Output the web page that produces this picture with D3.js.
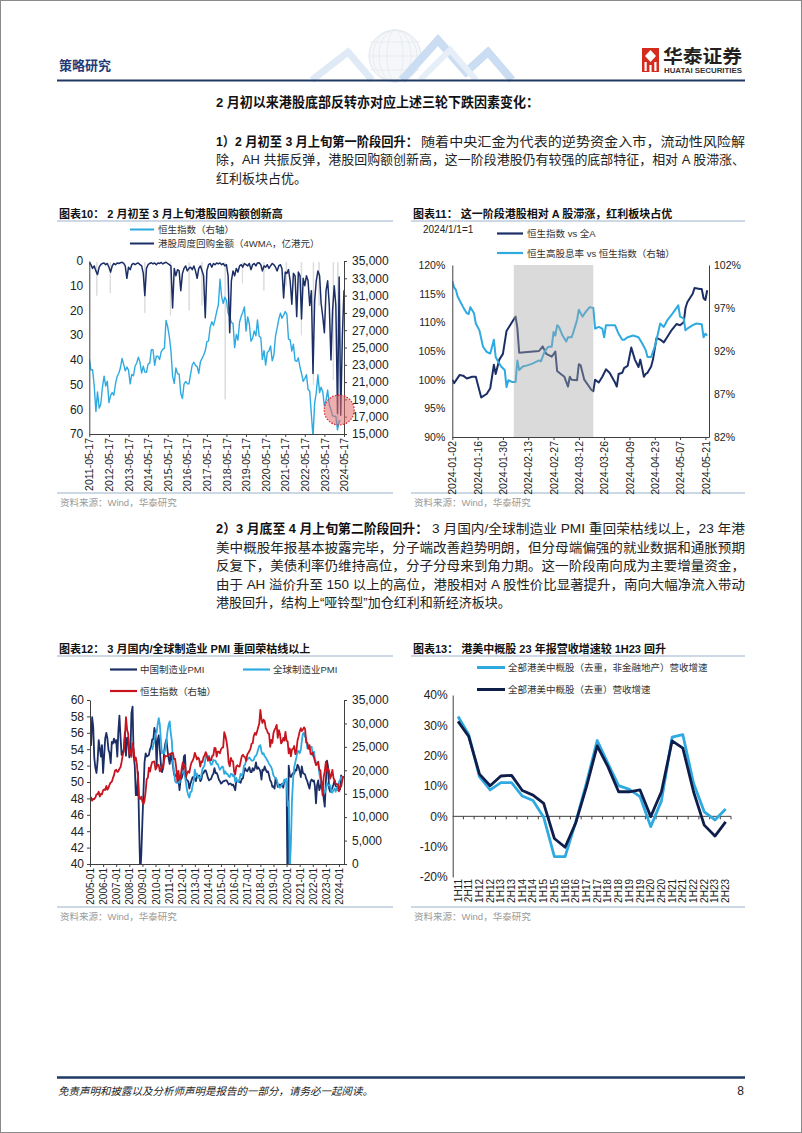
<!DOCTYPE html>
<html><head><meta charset="utf-8">
<script src="https://cdn.jsdelivr.net/npm/d3@7/dist/d3.min.js"></script>
<style>
html,body{margin:0;padding:0;background:#fff;}
svg{display:block;}
</style></head><body>
<svg id="page" width="802" height="1133"></svg>
<script>
// ---------------- DATA ----------------
// Chart 10
const c10Ticks = ["2011-05-17","2012-05-17","2013-05-17","2014-05-17","2015-05-17","2016-05-17","2017-05-17","2018-05-17","2019-05-17","2020-05-17","2021-05-17","2022-05-17","2023-05-17","2024-05-17"];
const c10LeftTicks = [0,10,20,30,40,50,60,70];
const c10RightTicks = [15000,17000,19000,21000,23000,25000,27000,29000,31000,33000,35000];
// weekly buyback 4WMA (monthly samples from 2011-05 to 2024-05)
const buyback4wma = [
 0.5,1.5,3.0,2.0,4.0,5.5,2.5,1.5,
 1.0,0.8,1.5,1.0,2.5,4.5,2.0,1.0,1.5,0.8,1.0,0.7,
 0.5,1.0,2.0,7.0,2.5,3.5,1.5,1.0,1.5,1.0,0.8,1.5,
 2.0,5.0,14.0,3.0,1.5,1.0,0.7,1.2,0.8,1.5,0.8,1.0,
 0.6,1.2,0.8,0.5,1.0,1.5,2.0,19.0,3.0,6.0,3.5,4.0,
 12.0,5.0,3.0,2.0,4.0,3.0,2.5,3.5,2.0,4.0,7.0,3.0,
 2.0,4.0,6.0,23.0,4.0,1.5,1.0,2.5,1.0,1.5,0.8,1.2,
 0.8,1.5,1.0,2.0,1.5,6.0,29.0,8.0,4.0,6.0,3.0,4.5,
 2.0,1.5,2.5,1.0,1.5,2.0,1.0,3.5,1.5,1.0,2.0,0.8,
 0.7,1.5,4.0,2.0,2.5,1.5,3.0,2.0,1.0,1.5,2.5,4.0,
 2.0,1.5,3.0,15.0,4.5,5.0,3.5,8.0,17.5,5.0,6.0,22.5,
 4.5,6.0,23.5,7.0,10.0,6.0,8.0,18.0,12.0,45.5,16.0,8.0,
 4.0,6.0,17.0,22.5,29.0,12.0,8.0,18.0,40.0,20.0,10.0,18.0,
 61.7,6.5,62.4,30.0,11.8
];
// raw weekly buyback peaks (faint grey)
const buybackWeeklyPeaks = [["2011-10-04",14],["2012-06-12",13],["2014-03-18",21],["2015-07-07",22],["2016-06-21",20],["2017-02-14",18],["2018-04-24",56],["2019-03-12",9],["2020-04-14",12],["2021-06-08",10],["2022-03-15",30],["2022-10-25",50],["2023-02-07",18],["2023-10-31",48],["2024-01-23",66]];
// Hang Seng Index, monthly, 2005-01 .. 2024-05 (used by charts 10 and 12)
const hsiMonthly = [
 13721,14195,13516,13908,13867,14201,14880,14903,15429,14386,14937,14876,
 15753,15918,15805,16661,15857,16267,16971,17392,17543,18324,18960,19965,
 20106,19651,19800,20318,20635,21773,23184,23984,27142,31352,28643,27812,
 23456,24332,22849,25755,24533,22102,22731,21262,18016,13969,13888,14387,
 13278,12812,13576,15521,18171,18379,20573,19724,20955,21752,21822,21873,
 20122,20609,21239,21108,19765,20129,21029,20536,22358,23096,23008,23035,
 23447,23338,23528,23720,23684,22398,22440,20535,17592,19864,17989,18434,
 20390,21680,20556,21094,18630,19441,19796,19482,20840,21642,22030,22657,
 23730,23020,22300,22737,22392,20803,21883,21731,22860,23206,23881,23306,
 22035,22837,22151,22134,23082,23191,24757,24742,22933,23998,23987,23605,
 24507,24823,24901,28133,27424,26250,24636,21670,20846,22640,21996,21914,
 19683,19112,20777,21067,20815,20794,21891,22977,23297,22935,22790,22001,
 23361,23741,24112,24615,25661,25765,27324,27970,27554,28246,29177,29919,
 32887,30845,30093,30808,30469,28955,28583,27889,27789,24980,26507,25846,
 27942,28633,29051,29699,26901,28543,27778,25725,26092,26907,26346,28190,
 26313,26130,23603,24644,22961,24427,24595,25177,23459,24107,26341,27231,
 28284,28980,28378,28725,29152,28828,25961,25879,24576,25377,23475,23398,
 23802,22713,21997,21089,21415,21860,20156,19954,17223,14687,18597,19781,
 21842,19786,20400,19895,18234,18916,20079,18382,17810,17112,17043,17047,
 15485,16511,16541,17763,18800
];

// Chart 11
const c11Ticks = ["2024-01-02","2024-01-16","2024-01-30","2024-02-13","2024-02-27","2024-03-12","2024-03-26","2024-04-09","2024-04-23","2024-05-07","2024-05-21"];
const c11LeftTicks = [90,95,100,105,110,115,120];
const c11RightTicks = [82,87,92,97,102];
const c11Band = ["2024-02-05","2024-03-20"];
const hsiVsAllA = [["2024-01-02",100.0],["2024-01-03",99.4],["2024-01-06",100.8],["2024-01-08",100.7],["2024-01-10",100.2],["2024-01-13",100.5],["2024-01-15",100.5],["2024-01-18",96.9],["2024-01-21",97.5],["2024-01-23",98.5],["2024-01-25",102.6],["2024-01-26",101.0],["2024-01-28",103.5],["2024-01-30",104.5],["2024-02-01",108.5],["2024-02-04",110.0],["2024-02-06",111.0],["2024-02-07",109.0],["2024-02-08",104.7],["2024-02-19",105.0],["2024-02-21",105.8],["2024-02-23",104.5],["2024-02-26",104.0],["2024-02-28",104.9],["2024-02-29",101.5],["2024-03-02",101.0],["2024-03-04",100.5],["2024-03-06",98.8],["2024-03-07",100.5],["2024-03-08",100.0],["2024-03-11",99.9],["2024-03-12",102.7],["2024-03-13",102.5],["2024-03-15",100.0],["2024-03-19",98.2],["2024-03-20",98.0],["2024-03-21",100.0],["2024-03-23",99.5],["2024-03-25",100.5],["2024-03-27",101.8],["2024-03-29",101.2],["2024-04-01",99.5],["2024-04-02",98.8],["2024-04-03",101.0],["2024-04-05",101.2],["2024-04-06",102.0],["2024-04-08",102.4],["2024-04-10",105.6],["2024-04-12",103.5],["2024-04-14",102.2],["2024-04-15",103.5],["2024-04-17",100.5],["2024-04-18",101.0],["2024-04-19",101.2],["2024-04-21",102.3],["2024-04-22",103.5],["2024-04-24",107.3],["2024-04-26",107.0],["2024-04-28",106.5],["2024-04-30",107.5],["2024-05-02",108.5],["2024-05-05",109.7],["2024-05-07",109.5],["2024-05-09",110.0],["2024-05-10",112.5],["2024-05-11",113.5],["2024-05-13",114.5],["2024-05-14",115.0],["2024-05-15",116.0],["2024-05-18",115.8],["2024-05-19",115.8],["2024-05-20",114.2],["2024-05-21",113.9],["2024-05-22",115.6]];
const hsHighDivVsHsi = [["2024-01-02",100.1],["2024-01-03",99.4],["2024-01-04",99.1],["2024-01-05",98.3],["2024-01-08",97.1],["2024-01-10",96.4],["2024-01-11",96.3],["2024-01-12",97.1],["2024-01-14",96.4],["2024-01-15",95.2],["2024-01-17",94.4],["2024-01-19",92.5],["2024-01-21",91.9],["2024-01-23",91.7],["2024-01-25",93.3],["2024-01-26",91.3],["2024-01-27",90.9],["2024-01-29",90.2],["2024-01-31",89.8],["2024-02-01",87.8],["2024-02-02",88.6],["2024-02-04",88.4],["2024-02-06",88.4],["2024-02-07",90.9],["2024-02-08",89.8],["2024-02-10",90.2],["2024-02-12",90.3],["2024-02-15",90.5],["2024-02-19",90.9],["2024-02-20",90.8],["2024-02-22",91.9],["2024-02-24",92.5],["2024-02-26",92.5],["2024-02-27",94.2],["2024-02-28",93.8],["2024-02-29",95.0],["2024-03-01",94.8],["2024-03-03",93.8],["2024-03-05",93.1],["2024-03-06",93.6],["2024-03-08",93.6],["2024-03-09",94.2],["2024-03-11",95.6],["2024-03-12",96.8],["2024-03-14",96.0],["2024-03-16",96.6],["2024-03-18",97.1],["2024-03-20",97.0],["2024-03-21",94.6],["2024-03-23",94.8],["2024-03-25",94.6],["2024-03-26",93.6],["2024-03-27",95.0],["2024-04-01",95.0],["2024-04-03",94.0],["2024-04-05",93.3],["2024-04-06",93.3],["2024-04-08",93.6],["2024-04-11",93.8],["2024-04-14",93.6],["2024-04-16",92.9],["2024-04-18",92.1],["2024-04-19",91.3],["2024-04-21",91.3],["2024-04-23",92.5],["2024-04-24",93.3],["2024-04-26",95.2],["2024-04-28",94.8],["2024-04-30",95.6],["2024-05-03",96.4],["2024-05-06",97.3],["2024-05-07",96.0],["2024-05-09",95.8],["2024-05-10",94.4],["2024-05-11",94.6],["2024-05-14",95.0],["2024-05-16",95.2],["2024-05-19",95.1],["2024-05-20",93.6],["2024-05-21",94.0],["2024-05-22",93.8]];

// Chart 12
const c12Ticks = ["2005-01","2006-01","2007-01","2008-01","2009-01","2010-01","2011-01","2012-01","2013-01","2014-01","2015-01","2016-01","2017-01","2018-01","2019-01","2020-01","2021-01","2022-01","2023-01","2024-01"];
const c12LeftTicks = [40,42,44,46,48,50,52,54,56,58,60];
const c12RightTicks = [0,5000,10000,15000,20000,25000,30000,35000];
// China manufacturing PMI 2005-01 .. 2024-04
const pmiChina = [
 54.7,54.5,57.9,56.7,52.9,51.7,51.1,52.6,55.1,54.1,53.1,54.5,
 51.1,53.3,55.3,56.0,55.3,53.9,53.5,52.3,54.9,54.7,55.3,54.8,
 55.1,53.1,56.1,58.1,55.5,53.3,53.5,54.0,56.1,53.2,55.4,55.3,
 53.0,53.4,58.4,59.2,53.3,52.0,48.4,48.4,51.2,44.6,38.8,41.2,
 45.3,49.0,52.4,53.5,53.1,53.2,53.3,54.0,54.3,55.2,55.2,56.6,
 55.8,52.0,55.1,55.7,53.9,52.1,51.2,51.7,53.8,54.7,55.2,53.9,
 52.9,52.2,53.4,52.9,52.0,50.9,50.7,50.9,51.2,50.4,49.0,50.3,
 50.5,51.0,53.1,53.3,50.4,50.2,50.1,49.2,49.8,50.2,50.6,50.6,
 50.4,50.1,50.9,50.6,50.8,50.1,50.3,51.0,51.1,51.4,51.4,51.0,
 50.5,50.2,50.3,50.4,50.8,51.0,51.7,51.1,51.1,50.8,50.3,50.1,
 49.8,49.9,50.1,50.1,50.2,50.2,50.0,49.7,49.8,49.8,49.6,49.7,
 49.4,49.0,50.2,50.1,50.1,50.0,49.9,50.4,50.4,51.2,51.7,51.4,
 51.3,51.6,51.8,51.2,51.2,51.7,51.4,51.7,52.4,51.6,51.8,51.6,
 51.3,50.3,51.5,51.4,51.9,51.5,51.2,51.3,50.8,50.2,50.0,49.4,
 49.5,49.2,50.5,50.1,49.4,49.4,49.7,49.5,49.8,49.3,50.2,50.2,
 50.0,35.7,52.0,50.8,50.6,50.9,51.1,51.0,51.5,51.4,52.1,51.9,
 51.3,50.6,51.9,51.1,51.0,50.9,50.4,50.1,49.6,49.2,50.1,50.3,
 50.1,50.2,49.5,47.4,49.6,50.2,49.0,49.4,50.1,49.2,48.0,47.0,
 50.1,52.6,51.9,49.2,48.8,49.0,49.3,49.7,50.2,49.5,49.4,49.0,
 49.2,49.1,50.8,50.4
];
// Global manufacturing PMI 2009-10 .. 2024-04
const pmiGlobal = [
 53.9,54.5,55.0,
 56.0,56.0,57.0,57.8,57.0,55.0,53.5,53.7,53.5,54.1,55.0,56.2,
 57.0,57.4,56.0,55.0,52.5,51.3,50.1,49.9,49.9,50.0,49.9,50.8,
 51.0,51.3,51.4,50.7,49.8,48.9,48.4,48.1,48.8,48.8,49.6,50.1,
 51.5,50.8,51.0,50.5,50.6,50.4,50.8,51.6,51.8,52.1,53.2,53.0,
 52.9,53.2,52.4,52.1,52.2,52.7,52.6,52.6,52.2,52.2,51.8,51.5,
 51.7,51.9,51.8,51.0,51.3,51.0,51.0,50.7,50.6,51.0,51.0,50.7,
 50.9,50.0,50.5,50.1,50.0,50.4,51.0,50.8,51.0,52.0,52.1,52.7,
 52.7,52.9,53.0,52.8,52.6,52.6,52.7,53.1,53.2,53.5,54.0,54.4,
 54.5,53.7,53.4,53.5,53.1,53.0,52.7,52.5,52.2,52.0,51.8,51.4,
 50.8,50.6,50.5,50.3,49.8,49.4,49.3,49.5,49.7,49.8,50.3,50.1,
 50.4,47.1,47.6,39.6,42.4,47.8,50.3,51.8,52.4,53.0,53.7,53.8,
 53.5,53.9,55.0,55.9,56.0,55.5,55.4,54.1,54.1,54.3,54.2,54.3,
 53.2,53.7,52.9,52.3,52.3,52.2,51.1,50.3,49.8,49.4,48.8,48.7,
 49.1,49.9,49.6,49.6,49.6,48.8,48.7,49.0,49.2,48.8,49.3,49.0,
 50.0,50.3,50.6,50.3
];

// Chart 13
const c13Cats = ["1H11","2H11","1H12","2H12","1H13","2H13","1H14","2H14","1H15","2H15","1H16","2H16","1H17","2H17","1H18","2H18","1H19","2H19","1H20","2H20","1H21","2H21","1H22","2H22","1H23","2H23"];
const c13Ticks = [-20,-10,0,10,20,30,40];
const revGrowthExFinRE = [32.9,26.9,13.1,8.7,11.1,11.1,6.7,5.2,-0.3,-13.3,-13.3,-1.8,11.0,25.0,17.5,10.1,8.9,6.5,-3.4,5.1,26.1,26.9,10.9,1.5,-1.2,2.4];
const revGrowthAll = [31.3,26.3,13.9,10.1,13.3,13.5,8.5,7.0,4.3,-7.3,-10.2,-2.1,9.8,23.2,16.4,8.1,8.1,8.7,-0.1,8.1,24.9,22.5,8.1,-2.9,-6.5,-1.8];

// ---------------- DRAWING ----------------
const FONT = "'Liberation Sans', Arial, 'Noto Sans CJK SC', sans-serif";
const NAVY = "#1b2f66", LBLUE = "#2eaae1", RED = "#c8141e", AX = "#404040";
const parse = d3.timeParse("%Y-%m-%d");
const parseM = d3.timeParse("%Y-%m");
const svg = d3.select("#page").attr("font-family", FONT);
svg.append("rect").attr("width", 802).attr("height", 1133).attr("fill", "#fff");
const defs = svg.append("defs");

function txt(g, x, y, s, o = {}) {
  const t = g.append("text").attr("x", x).attr("y", y).attr("dominant-baseline", "central")
    .attr("font-size", o.size || 12).attr("fill", o.fill || "#222").text(s);
  if (o.bold) t.attr("font-weight", "bold");
  if (o.anchor) t.attr("text-anchor", o.anchor);
  if (o.len) t.attr("textLength", o.len).attr("lengthAdjust", "spacingAndGlyphs");
  if (o.italic) t.attr("font-style", "italic");
  if (o.ls) t.attr("letter-spacing", o.ls);
  return t;
}
function hline(g, x1, x2, y, color, w) {
  g.append("line").attr("x1", x1).attr("x2", x2).attr("y1", y).attr("y2", y).attr("stroke", color).attr("stroke-width", w);
}
function styleAxis(sel, fs) {
  sel.attr("font-family", FONT).attr("font-size", fs);
  sel.select(".domain").attr("stroke", AX);
  sel.selectAll(".tick line").attr("stroke", AX);
  sel.selectAll(".tick text").attr("fill", "#222");
}
function rotateLabels(sel, off) {
  sel.selectAll(".tick text").attr("transform", "rotate(-90)").attr("text-anchor", "end")
    .attr("x", -off).attr("y", 0).attr("dy", "0.35em");
}
function clip(id, x0, y0, x1, y1) {
  defs.append("clipPath").attr("id", id).append("rect").attr("x", x0).attr("y", y0).attr("width", x1 - x0).attr("height", y1 - y0);
  return `url(#${id})`;
}
function frame(x0, x1, ty, title, srcLineY) {
  txt(svg, x0 + 2, ty, title, { size: 11, bold: true, fill: "#111" });
  hline(svg, x0, x1, ty + 7, "#9cb1cc", 1);
  hline(svg, x0, x1, srcLineY, "#9cb1cc", 1.2);
  txt(svg, x0 + 3, srcLineY + 9.5, "资料来源：Wind，华泰研究", { size: 9.5, fill: "#9a9a9a" });
}
function legendLine(g, x1, x2, y, color, w) {
  g.append("line").attr("x1", x1).attr("x2", x2).attr("y1", y).attr("y2", y).attr("stroke", color).attr("stroke-width", w);
}

// ----- Page border, header -----
svg.append("rect").attr("x", 0.5).attr("y", 0.5).attr("width", 801).attr("height", 1132).attr("fill", "none").attr("stroke", "#8a8a8a");
// decorative header graphic (globe and ribbons)
const deco = svg.append("g").attr("opacity", 0.55);
deco.append("circle").attr("cx", 395).attr("cy", 56).attr("r", 26).attr("fill", "#eef2f6").attr("stroke", "#c9d2dc").attr("stroke-width", 1);
[8, 16, 22].forEach(rx => deco.append("ellipse").attr("cx", 395).attr("cy", 56).attr("rx", rx).attr("ry", 26).attr("fill", "none").attr("stroke", "#cfd7e0").attr("stroke-width", 0.8));
[-14, 0, 14].forEach(dy => deco.append("line").attr("x1", 370).attr("x2", 420).attr("y1", 56 + dy).attr("y2", 56 + dy).attr("stroke", "#cfd7e0").attr("stroke-width", 0.8));
deco.append("polyline").attr("points", "312,80 348,52 372,80").attr("fill", "none").attr("stroke", "#c6daf0").attr("stroke-width", 7);
deco.append("polyline").attr("points", "402,80 438,40 466,72 488,52 512,80").attr("fill", "none").attr("stroke", "#9fc3e8").attr("stroke-width", 8);
deco.append("polyline").attr("points", "420,80 450,50 476,80").attr("fill", "none").attr("stroke", "#d2e3f4").attr("stroke-width", 6);

txt(svg, 59, 65.5, "策略研究", { size: 13, bold: true, fill: "#1f3b7a" });
// logo
const logo = svg.append("g");
logo.append("rect").attr("x", 642).attr("y", 48).attr("width", 17).attr("height", 24).attr("fill", "#d52b1e");
logo.append("path").attr("d", "M650.5,50 L656,56 L650.5,62 L645,56 Z").attr("fill", "#fff");
logo.append("rect").attr("x", 644.5).attr("y", 62).attr("width", 2.2).attr("height", 9).attr("fill", "#fff");
logo.append("rect").attr("x", 649.4).attr("y", 65).attr("width", 2.2).attr("height", 7).attr("fill", "#fff");
logo.append("rect").attr("x", 654.3).attr("y", 62).attr("width", 2.2).attr("height", 9).attr("fill", "#fff");
txt(logo, 663, 57, "华泰证券", { size: 18, bold: true, fill: "#231f20", len: 79 });
txt(logo, 664, 70.5, "HUATAI SECURITIES", { size: 7, bold: true, fill: "#333", len: 78 });
hline(svg, 57, 745, 80.5, "#1f3864", 2);

// ----- Body text -----
txt(svg, 216, 102.7, "2 月初以来港股底部反转亦对应上述三轮下跌因素变化：", { size: 13.5, bold: true, fill: "#111", len: 323 });
txt(svg, 216, 141, "1）2 月初至 3 月上旬第一阶段回升：", { size: 13, bold: true, fill: "#111", len: 202 });
txt(svg, 421, 141, "随着中央汇金为代表的逆势资金入市，流动性风险解", { size: 13, fill: "#222", len: 324 });
txt(svg, 216, 159.5, "除，AH 共振反弹，港股回购额创新高，这一阶段港股仍有较强的底部特征，相对 A 股滞涨、", { size: 13, fill: "#222", len: 529 });
txt(svg, 216, 178, "红利板块占优。", { size: 13, fill: "#222" });

txt(svg, 216, 528.5, "2）3 月底至 4 月上旬第二阶段回升：", { size: 13, bold: true, fill: "#111", len: 212 });
txt(svg, 432, 528.5, "3 月国内/全球制造业 PMI 重回荣枯线以上，23 年港", { size: 13, fill: "#222", len: 313 });
txt(svg, 216, 547, "美中概股年报基本披露完毕，分子端改善趋势明朗，但分母端偏强的就业数据和通胀预期", { size: 13, fill: "#222", len: 529 });
txt(svg, 216, 565.5, "反复下，美债利率仍维持高位，分子分母来到角力期。这一阶段南向成为主要增量资金，", { size: 13, fill: "#222", len: 529 });
txt(svg, 216, 584, "由于 AH 溢价升至 150 以上的高位，港股相对 A 股性价比显著提升，南向大幅净流入带动", { size: 13, fill: "#222", len: 529 });
txt(svg, 216, 602.5, "港股回升，结构上“哑铃型”加仓红利和新经济板块。", { size: 13, fill: "#222" });

// ----- Footer -----
hline(svg, 57, 745, 1077.5, "#1f3864", 2.5);
txt(svg, 58, 1090.5, "免责声明和披露以及分析师声明是报告的一部分，请务必一起阅读。", { size: 10.5, italic: true, fill: "#222" });
txt(svg, 744, 1090.5, "8", { size: 12, fill: "#222", anchor: "end" });

// ================= CHART 10 =================
(function () {
  frame(57, 393, 214, "图表10：  2 月初至 3 月上旬港股回购额创新高", 493);
  const g = svg.append("g");
  legendLine(g, 130, 154, 229.5, LBLUE, 2);
  txt(g, 158, 229.5, "恒生指数（右轴）", { size: 9.5, fill: "#333" });
  legendLine(g, 130, 154, 243.5, NAVY, 2);
  txt(g, 158, 243.5, "港股周度回购金额（4WMA，亿港元）", { size: 9.5, fill: "#333" });

  const X0 = 89.3, X1 = 344, Y0 = 261, Y1 = 434;
  const x = d3.scaleTime().domain([parse(c10Ticks[0]), parse(c10Ticks[c10Ticks.length - 1])]).range([X0, X1]);
  const yL = d3.scaleLinear().domain([0, 70]).range([Y0, Y1]);
  const yR = d3.scaleLinear().domain([15000, 35000]).range([Y1, Y0]);
  const cp = clip("c10", X0, Y0 - 1, X1, Y1);

  const spikeLine = d3.line().x(d => x(d[0])).y(d => yL(d[1]));
  buybackWeeklyPeaks.forEach(([ds, v]) => {
    const d = parse(ds);
    g.append("path").attr("clip-path", cp)
      .attr("d", spikeLine([[d3.timeDay.offset(d, -4), 0.5], [d, v], [d3.timeDay.offset(d, 4), 0.5]]))
      .attr("fill", "none").attr("stroke", "#dcdcdc").attr("stroke-width", 1);
  });
  const hsi10 = hsiMonthly.map((v, i) => [new Date(2005, i, 17), v]).filter((d, i) => i >= 76 && i <= 230);
  g.append("path").attr("clip-path", cp).attr("d", d3.line().x(d => x(d[0])).y(d => yR(d[1]))(hsi10))
    .attr("fill", "none").attr("stroke", LBLUE).attr("stroke-width", 1.4).attr("stroke-linejoin", "round");
  const bb = buyback4wma.map((v, i) => [new Date(2011, 4 + i, 17), v]);
  g.append("path").attr("clip-path", cp).attr("d", d3.line().x(d => x(d[0])).y(d => yL(d[1]))(bb))
    .attr("fill", "none").attr("stroke", NAVY).attr("stroke-width", 1.5).attr("stroke-linejoin", "round");

  const aL = g.append("g").attr("transform", `translate(${X0},0)`)
    .call(d3.axisLeft(yL).tickValues(c10LeftTicks).tickSize(0).tickPadding(6));
  styleAxis(aL, 12);
  const aR = g.append("g").attr("transform", `translate(${X1},0)`)
    .call(d3.axisRight(yR).tickValues(c10RightTicks).tickSize(3).tickSizeOuter(0).tickPadding(5).tickFormat(d3.format(",")));
  styleAxis(aR, 12);
  const aB = g.append("g").attr("transform", `translate(0,${Y1})`)
    .call(d3.axisBottom(x).tickValues(c10Ticks.map(parse)).tickSize(3).tickSizeOuter(0).tickFormat(d3.timeFormat("%Y-%m-%d")));
  styleAxis(aB, 10.5);
  rotateLabels(aB, 4);

  g.append("circle").attr("cx", x(parse("2024-02-17"))).attr("cy", yL(60.3)).attr("r", 15)
    .attr("fill", "rgba(226,110,110,0.55)").attr("stroke", "#e0262b").attr("stroke-width", 1.2).attr("stroke-dasharray", "1.5,1.5");
})();

// ================= CHART 11 =================
(function () {
  frame(411, 745, 214, "图表11：  这一阶段港股相对 A 股滞涨，红利板块占优", 493);
  const g = svg.append("g");
  txt(g, 423, 229.5, "2024/1/1=1", { size: 10, fill: "#222" });
  legendLine(g, 497, 523, 233.5, NAVY, 2.2);
  txt(g, 527, 233.5, "恒生指数 vs 全A", { size: 9.5, fill: "#333" });
  legendLine(g, 497, 523, 253, LBLUE, 2.2);
  txt(g, 527, 253, "恒生高股息率 vs 恒生指数（右轴）", { size: 9.5, fill: "#333" });

  const X0 = 452.3, X1 = 709, Y0 = 265, Y1 = 437;
  const x = d3.scaleTime().domain([parse("2024-01-02"), parse("2024-05-23")]).range([X0, X1]);
  const yL = d3.scaleLinear().domain([90, 120]).range([Y1, Y0]);
  const yR = d3.scaleLinear().domain([82, 102]).range([Y1, Y0]);
  const cp = clip("c11", X0, Y0, X1, Y1);

  g.append("path").attr("clip-path", cp).attr("d", d3.line().x(d => x(parse(d[0]))).y(d => yL(d[1]))(hsiVsAllA))
    .attr("fill", "none").attr("stroke", NAVY).attr("stroke-width", 2).attr("stroke-linejoin", "round");
  g.append("path").attr("clip-path", cp).attr("d", d3.line().x(d => x(parse(d[0]))).y(d => yR(d[1]))(hsHighDivVsHsi))
    .attr("fill", "none").attr("stroke", LBLUE).attr("stroke-width", 2).attr("stroke-linejoin", "round");
  g.append("rect").attr("x", x(parse(c11Band[0]))).attr("y", Y0).attr("width", x(parse(c11Band[1])) - x(parse(c11Band[0])))
    .attr("height", Y1 - Y0).attr("fill", "#a6a6a6").attr("opacity", 0.42);

  const aL = g.append("g").attr("transform", `translate(${X0},0)`)
    .call(d3.axisLeft(yL).tickValues(c11LeftTicks).tickSize(0).tickPadding(7).tickFormat(d => d + "%"));
  styleAxis(aL, 10.5);
  const aR = g.append("g").attr("transform", `translate(${X1},0)`)
    .call(d3.axisRight(yR).tickValues(c11RightTicks).tickSize(0).tickPadding(5).tickFormat(d => d + "%"));
  styleAxis(aR, 10.5);
  const aB = g.append("g").attr("transform", `translate(0,${Y1})`)
    .call(d3.axisBottom(x).tickValues(c11Ticks.map(parse)).tickSize(3).tickSizeOuter(0).tickFormat(d3.timeFormat("%Y-%m-%d")));
  styleAxis(aB, 10.5);
  rotateLabels(aB, 4);
})();

// ================= CHART 12 =================
(function () {
  frame(57, 393, 649, "图表12：  3 月国内/全球制造业 PMI 重回荣枯线以上", 907);
  const g = svg.append("g");
  legendLine(g, 110, 137, 669.5, NAVY, 2.2);
  txt(g, 140, 669.5, "中国制造业PMI", { size: 9.5, fill: "#333" });
  legendLine(g, 243, 270, 669.5, LBLUE, 2.2);
  txt(g, 273, 669.5, "全球制造业PMI", { size: 9.5, fill: "#333" });
  legendLine(g, 110, 137, 691, RED, 2.2);
  txt(g, 140, 691, "恒生指数（右轴）", { size: 9.5, fill: "#333" });

  const X0 = 90, X1 = 344, Y0 = 700, Y1 = 864;
  const x = d3.scaleTime().domain([parse("2005-01-01"), parse("2024-05-20")]).range([X0, X1]);
  const yL = d3.scaleLinear().domain([40, 60]).range([Y1, Y0]);
  const yR = d3.scaleLinear().domain([0, 35000]).range([Y1, Y0]);
  const cp = clip("c12", X0, Y0 - 2, X1, Y1);

  const cn = pmiChina.map((v, i) => [new Date(2005, i, 1), v]);
  const gl = pmiGlobal.map((v, i) => [new Date(2009, 9 + i, 1), v]);
  const hs = hsiMonthly.map((v, i) => [new Date(2005, i, 1), v]);
  g.append("path").attr("clip-path", cp).attr("d", d3.line().x(d => x(d[0])).y(d => yL(d[1]))(cn))
    .attr("fill", "none").attr("stroke", NAVY).attr("stroke-width", 1.8).attr("stroke-linejoin", "round");
  g.append("path").attr("clip-path", cp).attr("d", d3.line().x(d => x(d[0])).y(d => yL(d[1]))(gl))
    .attr("fill", "none").attr("stroke", LBLUE).attr("stroke-width", 1.8).attr("stroke-linejoin", "round");
  g.append("path").attr("clip-path", cp).attr("d", d3.line().x(d => x(d[0])).y(d => yR(d[1]))(hs))
    .attr("fill", "none").attr("stroke", RED).attr("stroke-width", 1.8).attr("stroke-linejoin", "round");

  const aL = g.append("g").attr("transform", `translate(${X0},0)`)
    .call(d3.axisLeft(yL).tickValues(c12LeftTicks).tickSize(3).tickSizeOuter(0).tickPadding(3));
  styleAxis(aL, 12);
  const aR = g.append("g").attr("transform", `translate(${X1},0)`)
    .call(d3.axisRight(yR).tickValues(c12RightTicks).tickSize(3).tickSizeOuter(0).tickPadding(5).tickFormat(d3.format(",")));
  styleAxis(aR, 12);
  const aB = g.append("g").attr("transform", `translate(0,${Y1})`)
    .call(d3.axisBottom(x).tickValues(c12Ticks.map(parseM)).tickSize(3).tickSizeOuter(0).tickFormat(d3.timeFormat("%Y-%m")));
  styleAxis(aB, 10);
  rotateLabels(aB, 4);
})();

// ================= CHART 13 =================
(function () {
  frame(411, 745, 649, "图表13：  港美中概股 23 年报营收增速较 1H23 回升", 907);
  const g = svg.append("g");
  legendLine(g, 477, 505, 667.5, LBLUE, 3);
  txt(g, 508, 667.5, "全部港美中概股（去重，非金融地产）营收增速", { size: 9.5, fill: "#333" });
  legendLine(g, 477, 505, 689.5, "#0f1d4a", 3);
  txt(g, 508, 689.5, "全部港美中概股（去重）营收增速", { size: 9.5, fill: "#333" });

  const X0 = 452.7, X1 = 731, Y0 = 695, Y1 = 877;
  const x = d3.scaleBand().domain(c13Cats).range([X0, X1]);
  const y = d3.scaleLinear().domain([-20, 40]).range([Y1, Y0]);
  const cx = c => x(c) + x.bandwidth() / 2;

  hline(g, X0, X1, y(0), AX, 1);
  c13Cats.concat([null]).forEach((c, i) => {
    const xx = c ? x(c) : X1;
    if (i === 0) return;
    g.append("line").attr("x1", xx).attr("x2", xx).attr("y1", y(0)).attr("y2", y(0) + 3).attr("stroke", AX);
  });

  g.append("path").attr("d", d3.line().x((d, i) => cx(c13Cats[i])).y(d => y(d))(revGrowthExFinRE))
    .attr("fill", "none").attr("stroke", LBLUE).attr("stroke-width", 2.8).attr("stroke-linejoin", "round");
  g.append("path").attr("d", d3.line().x((d, i) => cx(c13Cats[i])).y(d => y(d))(revGrowthAll))
    .attr("fill", "none").attr("stroke", "#0f1d4a").attr("stroke-width", 2.8).attr("stroke-linejoin", "round");

  const aL = g.append("g").attr("transform", `translate(${X0},0)`)
    .call(d3.axisLeft(y).tickValues(c13Ticks).tickSize(0).tickPadding(5).tickFormat(d => d + "%"));
  styleAxis(aL, 12);
  const aB = g.append("g").attr("transform", `translate(0,${Y1})`)
    .call(d3.axisBottom(x).tickSize(0));
  styleAxis(aB, 10);
  aB.select(".domain").remove();
  rotateLabels(aB, 2);
})();
</script>
</body></html>
